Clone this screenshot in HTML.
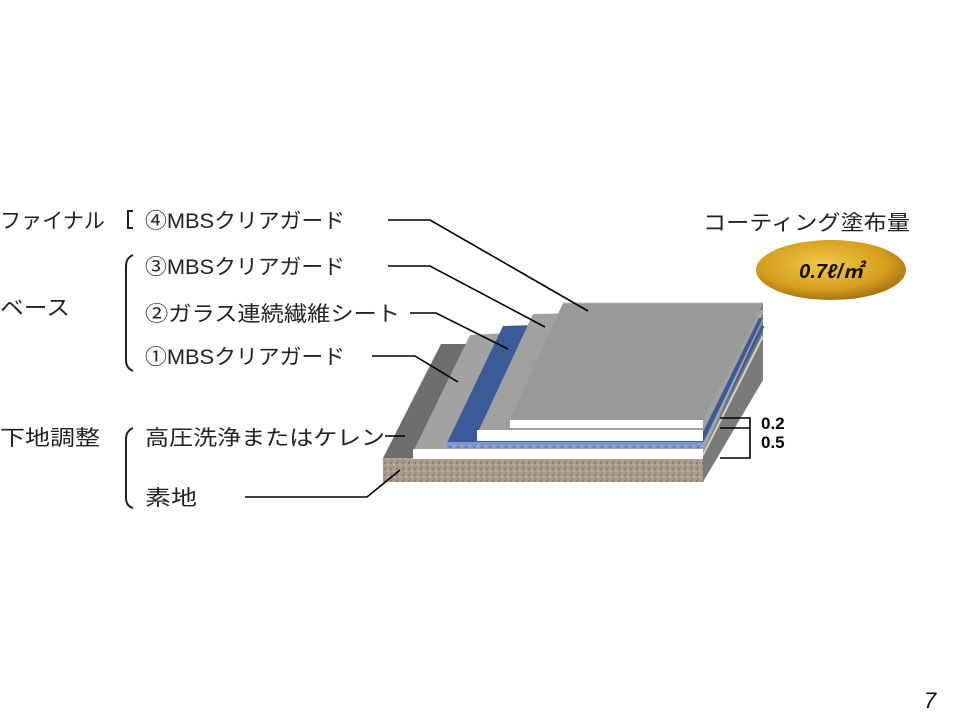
<!DOCTYPE html>
<html><head><meta charset="utf-8"><style>
html,body{margin:0;padding:0;background:#fff;}
svg{display:block;}
text{font-family:"Liberation Sans","Noto Sans CJK JP",sans-serif;}
</style></head><body>
<svg width="960" height="720" viewBox="0 0 960 720" xmlns="http://www.w3.org/2000/svg">
<defs>
<pattern id="conc" width="6" height="6" patternUnits="userSpaceOnUse">
<rect width="6" height="6" fill="#a99c8c"/>
<circle cx="1" cy="1" r="0.9" fill="#7d6f60"/>
<circle cx="4" cy="3" r="0.8" fill="#d0c6b8"/>
<circle cx="2" cy="5" r="0.7" fill="#8a7d6d"/>
</pattern>
<pattern id="dots" width="8" height="6" patternUnits="userSpaceOnUse">
<rect width="8" height="6" fill="#7d97cf"/>
<circle cx="2" cy="3" r="0.9" fill="#3f5c9a"/>
<circle cx="6" cy="2" r="0.7" fill="#c8d4ee"/>
</pattern>
<radialGradient id="gold" cx="0.45" cy="0.4" r="0.6">
<stop offset="0" stop-color="#f2c84a"/>
<stop offset="0.7" stop-color="#d69f1e"/>
<stop offset="1" stop-color="#a87412"/>
</radialGradient>
</defs>

<polygon points="703,420 763,303 763,380 703,482" fill="#7a7a7a"/>
<line x1="703" y1="428" x2="763" y2="310" stroke="#bdbdbd" stroke-width="2"/>
<line x1="703" y1="437" x2="763" y2="318" stroke="#c8c8c8" stroke-width="2"/>
<line x1="703" y1="445" x2="763" y2="326" stroke="#3a5a98" stroke-width="3"/>
<line x1="703" y1="455" x2="763" y2="336" stroke="#d0d0d0" stroke-width="2"/>
<rect x="383" y="458" width="320" height="24" fill="url(#conc)"/>
<polygon points="383,458 441,344 480,344 420,458" fill="#6e6e6e"/>
<polygon points="413,452 470,335 763,320 703,452" fill="#a2a2a2"/>
<rect x="413" y="449" width="290" height="10" fill="#fff"/>
<polygon points="447,443 503,326 763,318 703,443" fill="#3a5a98"/>
<rect x="447" y="442" width="256" height="6" fill="url(#dots)"/>
<polygon points="478,432 533,314 763,310 703,432" fill="#a0a0a0"/>
<rect x="477" y="430" width="226" height="11" fill="#fff"/>
<polygon points="510,420 563,303 763,303 703,420" fill="#999"/>
<line x1="563" y1="303" x2="763" y2="303" stroke="#bbb" stroke-width="1"/>
<rect x="510" y="420" width="193" height="8" fill="#fff"/>

<g stroke="#000" stroke-width="1.6" fill="none">
<polyline points="388,220 430,220 588,311"/>
<polyline points="388,266 430,266 545,327"/>
<polyline points="410,313 436,313 508,349"/>
<polyline points="372,356 415,356 458,382"/>
<line x1="385" y1="436" x2="405" y2="436"/>
<polyline points="245,497 367,497 400,470"/>
<polyline points="720,418 750,418 750,458 720,458"/>
<line x1="720" y1="428" x2="750" y2="428"/>
</g>
<text x="761" y="429" font-size="17" font-weight="bold">0.2</text>
<text x="761" y="448" font-size="17" font-weight="bold">0.5</text>

<g font-size="21" fill="#222" lengthAdjust="spacingAndGlyphs">
<text x="0" y="228" textLength="105" lengthAdjust="spacingAndGlyphs">ファイナル</text>
<text x="145" y="228" textLength="200" lengthAdjust="spacingAndGlyphs">④MBSクリアガード</text>
<text x="0" y="315" textLength="70" lengthAdjust="spacingAndGlyphs">ベース</text>
<text x="145" y="274" textLength="200" lengthAdjust="spacingAndGlyphs">③MBSクリアガード</text>
<text x="145" y="321" textLength="255" lengthAdjust="spacingAndGlyphs">②ガラス連続繊維シート</text>
<text x="145" y="364" textLength="200" lengthAdjust="spacingAndGlyphs">①MBSクリアガード</text>
<text x="0" y="445" textLength="100" lengthAdjust="spacingAndGlyphs">下地調整</text>
<text x="145" y="445" textLength="240" lengthAdjust="spacingAndGlyphs">高圧洗浄またはケレン</text>
<text x="145" y="505" textLength="52" lengthAdjust="spacingAndGlyphs">素地</text>
<text x="703" y="230" textLength="207" lengthAdjust="spacingAndGlyphs">コーティング塗布量</text>
</g>
<g stroke="#222" stroke-width="2" fill="none">
<path d="M133,211 L128,211 L128,228 L133,228"/>
<path d="M133,255 Q126,258 126,266 L126,360 Q126,368 133,371"/>
<path d="M133,428 Q126,431 126,439 L126,498 Q126,506 133,508"/>
</g>

<ellipse cx="831" cy="270" rx="75" ry="30" fill="url(#gold)"/>
<text x="831" y="278" font-size="20" font-weight="bold" font-style="italic" text-anchor="middle" fill="#111">0.7ℓ/㎡</text>

<text x="924" y="708" font-size="22" font-style="italic" fill="#111">7</text>
</svg>
</body></html>
